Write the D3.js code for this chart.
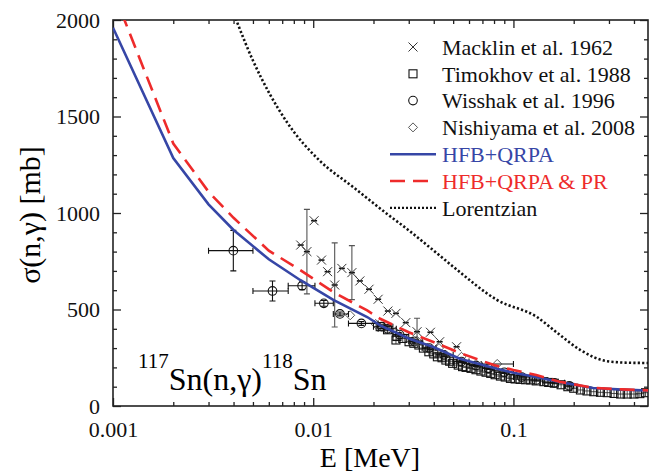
<!DOCTYPE html>
<html>
<head>
<meta charset="utf-8">
<script src="https://cdn.jsdelivr.net/npm/d3@7"></script>
<style>
  body { margin: 0; background: #fff; }
  svg { display: block; }
  svg text { font-family: "Liberation Serif", "DejaVu Serif", serif; }
  .tick line { stroke: #222; }
  .tick text { font-size: 22px; fill: #111; }
</style>
</head>
<body>
<svg id="chart" width="651" height="474"></svg>
<script>
// energies in MeV, cross sections in mb
const hfbE     = [0.001, 0.002, 0.003, 0.004, 0.006, 0.0086, 0.0126, 0.0186, 0.0216, 0.03, 0.0398, 0.054, 0.08, 0.1, 0.13, 0.17, 0.25, 0.35, 0.47];
const hfbSigma = [1960, 1285, 1045, 912, 760, 653, 550, 461, 418, 350, 306, 245, 197, 172, 150, 124, 93, 85, 80];

const prE      = [0.001, 0.002, 0.003, 0.004, 0.006, 0.0086, 0.0126, 0.0186, 0.0216, 0.03, 0.0398, 0.054, 0.08, 0.1, 0.13, 0.17, 0.25, 0.35, 0.47];
const prSigma  = [2150, 1360, 1110, 975, 805, 705, 590, 495, 452, 382, 332, 275, 212, 186, 161, 126, 94, 86, 81];

const lorE     = [0.0035, 0.005, 0.0074, 0.0108, 0.0158, 0.0234, 0.0296, 0.04, 0.05, 0.083, 0.131, 0.166, 0.216, 0.294, 0.38, 0.47];
const lorSigma = [2200, 1790, 1470, 1270, 1135, 995, 915, 805, 722, 549, 461, 378, 290, 232, 224, 223];

// Macklin et al. 1962: [E, sigma, dSigma]
const macklin = [
  [0.00866, 834, 0], [0.0093, 800, 219], [0.0101, 960, 0], [0.0110, 756, 0],
  [0.0118, 696, 0], [0.0128, 627, 218], [0.0139, 713, 0], [0.0156, 691, 140],
  [0.0171, 648, 0], [0.019, 605, 0], [0.0211, 553, 0], [0.0236, 492, 0],
  [0.0259, 480, 0], [0.029, 432, 0], [0.033, 385, 70], [0.0385, 382, 0],
  [0.0428, 333, 0], [0.052, 307, 0]
];

// Timokhov et al. 1988: [E, sigma]
const timokhov = [
  [0.0216, 411], [0.0235, 395], [0.0259, 342], [0.0262, 360], [0.028, 350],
  [0.0301, 333], [0.0318, 325], [0.0337, 316], [0.0355, 300], [0.0378, 281],
  [0.040, 270], [0.0417, 255], [0.044, 250], [0.046, 238], [0.048, 232],
  [0.0497, 221], [0.053, 212], [0.0557, 204], [0.058, 200], [0.0614, 195],
  [0.065, 188], [0.0688, 181], [0.073, 175], [0.077, 169], [0.081, 162],
  [0.0861, 155], [0.091, 150], [0.0966, 143], [0.102, 140], [0.108, 138],
  [0.115, 136], [0.122, 135], [0.13, 130], [0.142, 126], [0.15, 122],
  [0.16, 118], [0.173, 110], [0.187, 100], [0.2, 92], [0.216, 83],
  [0.233, 78], [0.252, 74], [0.272, 71], [0.294, 69], [0.318, 65],
  [0.343, 62], [0.37, 62], [0.4, 62], [0.428, 64], [0.457, 69]
];

// Wisshak et al. 1996: [E, sigma, Elow, Ehigh, dSigma]
const wisshak = [
  [0.00399, 805, 0.0030, 0.0050, 105], [0.00626, 596, 0.0050, 0.0075, 52],
  [0.0088, 623, 0.0075, 0.0102, 20], [0.0113, 532, 0.0102, 0.0126, 15],
  [0.0136, 477, 0.0126, 0.0150, 10], [0.0174, 428, 0.0150, 0.0211, 10],
  [0.022, 411, 0.020, 0.025, 10], [0.0235, 400, 0.0211, 0.026, 10],
  [0.027, 370, 0.025, 0.03, 8], [0.032, 335, 0.03, 0.035, 8],
  [0.038, 300, 0.035, 0.041, 8], [0.045, 265, 0.041, 0.05, 8],
  [0.055, 230, 0.05, 0.06, 6], [0.065, 210, 0.06, 0.07, 6],
  [0.075, 195, 0.07, 0.08, 6], [0.09, 175, 0.08, 0.1, 6],
  [0.11, 150, 0.1, 0.12, 5], [0.13, 135, 0.12, 0.14, 5],
  [0.16, 120, 0.14, 0.18, 5], [0.19, 105, 0.18, 0.2, 5]
];

// Nishiyama et al. 2008: [E, sigma, Elow, Ehigh]
const nishiyama = [
  [0.0153, 470, 0.0153, 0.0153], [0.0205, 425, 0.0205, 0.0205], [0.0257, 385, 0.0257, 0.0257],
  [0.033, 338, 0.033, 0.033], [0.0425, 300, 0.0425, 0.0425], [0.055, 255, 0.055, 0.055],
  [0.083, 218, 0.069, 0.1]
];

const xTickValues = [0.001, 0.01, 0.1];
const xTickLabels = ["0.001", "0.01", "0.1"];
const yTickValues = [0, 500, 1000, 1500, 2000];

const legendItems = [
  {label: "Macklin et al. 1962", kind: "cross"},
  {label: "Timokhov et al. 1988", kind: "square"},
  {label: "Wisshak et al. 1996", kind: "circle"},
  {label: "Nishiyama et al. 2008", kind: "diamond"},
  {label: "HFB+QRPA", kind: "hfb"},
  {label: "HFB+QRPA & PR", kind: "pr"},
  {label: "Lorentzian", kind: "lor"}
];

const BLUE = "#3646a6", RED = "#ee2b2b";
const width = 651, height = 474;
const m = {left: 113, right: 3, top: 20, bottom: 68};

const svg = d3.select("#chart");
const x = d3.scaleLog().domain([0.001, 0.47]).range([m.left, width - m.right]);
const y = d3.scaleLinear().domain([0, 2000]).range([height - m.bottom, m.top]);

svg.append("clipPath").attr("id", "plot")
  .append("rect")
  .attr("x", m.left).attr("y", m.top)
  .attr("width", width - m.left - m.right).attr("height", height - m.top - m.bottom);

// minor ticks on log axis
const minorX = [];
[0.001, 0.01, 0.1].forEach(d => {
  for (let k = 2; k <= 9; k++) if (d * k <= 0.47) minorX.push(d * k);
});
const minorY = d3.range(0, 2001, 100).filter(v => v % 500 !== 0);

const yBot = y(0), yTop = y(2000), xLeft = x.range()[0], xRight = x.range()[1];

function axis(gen, tr, vals, size, fmt, pad) {
  const g = svg.append("g").attr("transform", tr)
    .call(gen.tickValues(vals).tickSize(size).tickPadding(pad || 3).tickFormat(fmt));
  g.select(".domain").remove();
  g.selectAll(".tick line").attr("stroke-width", 1.3);
  return g;
}

axis(d3.axisBottom(x), `translate(0,${yBot})`, xTickValues, -8, (d, i) => xTickLabels[i], 15);
axis(d3.axisBottom(x), `translate(0,${yBot})`, minorX, -4, "");
axis(d3.axisTop(x), `translate(0,${yTop})`, xTickValues, -8, "");
axis(d3.axisTop(x), `translate(0,${yTop})`, minorX, -4, "");
axis(d3.axisLeft(y), `translate(${xLeft},0)`, yTickValues, -8, d3.format("d"), 13);
axis(d3.axisLeft(y), `translate(${xLeft},0)`, minorY, -4, "");
axis(d3.axisRight(y), `translate(${xRight},0)`, yTickValues, -8, "");
axis(d3.axisRight(y), `translate(${xRight},0)`, minorY, -4, "");

svg.append("rect")
  .attr("x", xLeft).attr("y", yTop)
  .attr("width", xRight - xLeft).attr("height", yBot - yTop)
  .attr("fill", "none").attr("stroke", "#222").attr("stroke-width", 1.6);

// axis titles
svg.append("text")
  .attr("x", 370).attr("y", 467)
  .attr("text-anchor", "middle")
  .style("font-size", "28px")
  .text("E [MeV]");

svg.append("text")
  .attr("transform", "translate(40,215) rotate(-90)")
  .attr("text-anchor", "middle")
  .style("font-size", "30px")
  .text("σ(n,γ) [mb]");

// reaction label
const lab = svg.append("text").attr("x", 138).attr("y", 390).style("font-size", "32px");
lab.append("tspan").attr("dy", -22).style("font-size", "21px").text("117");
lab.append("tspan").attr("dy", 22).text("Sn(n,γ)");
lab.append("tspan").attr("dy", -22).style("font-size", "21px").text("118");
lab.append("tspan").attr("dy", 22).text("Sn");

const plot = svg.append("g").attr("clip-path", "url(#plot)");

// marker helpers
function marker(g, kind, cx, cy) {
  if (kind === "cross") {
    const s = 4.5;
    g.append("path")
      .attr("d", `M${cx - s},${cy - s}L${cx + s},${cy + s}M${cx - s},${cy + s}L${cx + s},${cy - s}`)
      .attr("stroke", "#333").attr("stroke-width", 1).attr("fill", "none");
  } else if (kind === "square") {
    g.append("rect").attr("x", cx - 4).attr("y", cy - 4).attr("width", 8).attr("height", 8)
      .attr("fill", "none").attr("stroke", "#111").attr("stroke-width", 1.1);
  } else if (kind === "circle") {
    g.append("circle").attr("cx", cx).attr("cy", cy).attr("r", 4.3)
      .attr("fill", "none").attr("stroke", "#111").attr("stroke-width", 1.1);
  } else if (kind === "diamond") {
    const s = 4.5;
    g.append("path").attr("d", `M${cx},${cy - s}L${cx + s},${cy}L${cx},${cy + s}L${cx - s},${cy}Z`)
      .attr("fill", "none").attr("stroke", "#444").attr("stroke-width", 0.9);
  }
}

function errY(g, cx, y1, y2, color) {
  g.append("path").attr("d", `M${cx},${y1}L${cx},${y2}M${cx - 3},${y1}L${cx + 3},${y1}M${cx - 3},${y2}L${cx + 3},${y2}`)
    .attr("stroke", color).attr("stroke-width", 1.1).attr("fill", "none");
}
function errX(g, cy, x1, x2, color) {
  g.append("path").attr("d", `M${x1},${cy}L${x2},${cy}M${x1},${cy - 3}L${x1},${cy + 3}M${x2},${cy - 3}L${x2},${cy + 3}`)
    .attr("stroke", color).attr("stroke-width", 1.1).attr("fill", "none");
}

// Timokhov squares
const gT = plot.append("g");
timokhov.forEach(d => {
  marker(gT, "square", x(d[0]), y(d[1]));
  gT.append("path")
    .attr("d", `M${x(d[0]) - 4},${y(d[1])}h8M${x(d[0])},${y(d[1]) - 4}v8`)
    .attr("stroke", "#222").attr("stroke-width", 0.8);
});

// Nishiyama diamonds
const gN = plot.append("g");
nishiyama.forEach(d => {
  if (d[2] !== d[3]) errX(gN, y(d[1]), x(d[2]), x(d[3]), "#111");
  marker(gN, "diamond", x(d[0]), y(d[1]));
});

// Wisshak circles
const gW = plot.append("g");
wisshak.forEach(d => {
  errX(gW, y(d[1]), x(d[2]), x(d[3]), "#111");
  errY(gW, x(d[0]), y(d[1] + d[4]), y(d[1] - d[4]), "#111");
  marker(gW, "circle", x(d[0]), y(d[1]));
});

// Macklin crosses
const gM = plot.append("g");
macklin.forEach(d => {
  if (d[2] > 0) errY(gM, x(d[0]), y(d[1] + d[2]), y(d[1] - d[2]), "#555");
  gM.append("path").attr("d", `M${x(d[0]) - 3},${y(d[1])}h6`).attr("stroke", "#111").attr("stroke-width", 1.6);
  marker(gM, "cross", x(d[0]), y(d[1]));
});

// theory curves
const line = d3.line().x(d => x(d[0])).y(d => y(d[1]));
const smooth = d3.line().x(d => x(d[0])).y(d => y(d[1])).curve(d3.curveMonotoneX);

plot.append("path").datum(d3.zip(lorE, lorSigma)).attr("d", smooth)
  .attr("fill", "none").attr("stroke", "#111").attr("stroke-width", 2.6).attr("stroke-dasharray", "2.2,2.2");
plot.append("path").datum(d3.zip(hfbE, hfbSigma)).attr("d", line)
  .attr("fill", "none").attr("stroke", BLUE).attr("stroke-width", 2.6);
plot.append("path").datum(d3.zip(prE, prSigma)).attr("d", line)
  .attr("fill", "none").attr("stroke", RED).attr("stroke-width", 2.6).attr("stroke-dasharray", "15,8");

// legend
const lg = svg.append("g").style("font-size", "22px");
legendItems.forEach((it, i) => {
  const cy = 47 + i * 26.8;
  if (it.kind === "hfb" || it.kind === "pr" || it.kind === "lor") {
    lg.append("line").attr("x1", 390).attr("x2", 436).attr("y1", cy).attr("y2", cy)
      .attr("stroke", it.kind === "hfb" ? BLUE : it.kind === "pr" ? RED : "#111")
      .attr("stroke-width", it.kind === "lor" ? 2.2 : 2.6)
      .attr("stroke-dasharray", it.kind === "pr" ? "15,8" : it.kind === "lor" ? "2,2" : null);
  } else {
    marker(lg, it.kind, 413, cy);
  }
  lg.append("text").attr("x", 442).attr("y", cy).attr("dy", "0.35em")
    .attr("fill", it.kind === "hfb" ? BLUE : it.kind === "pr" ? RED : "#111")
    .text(it.label);
});
</script>
</body>
</html>
